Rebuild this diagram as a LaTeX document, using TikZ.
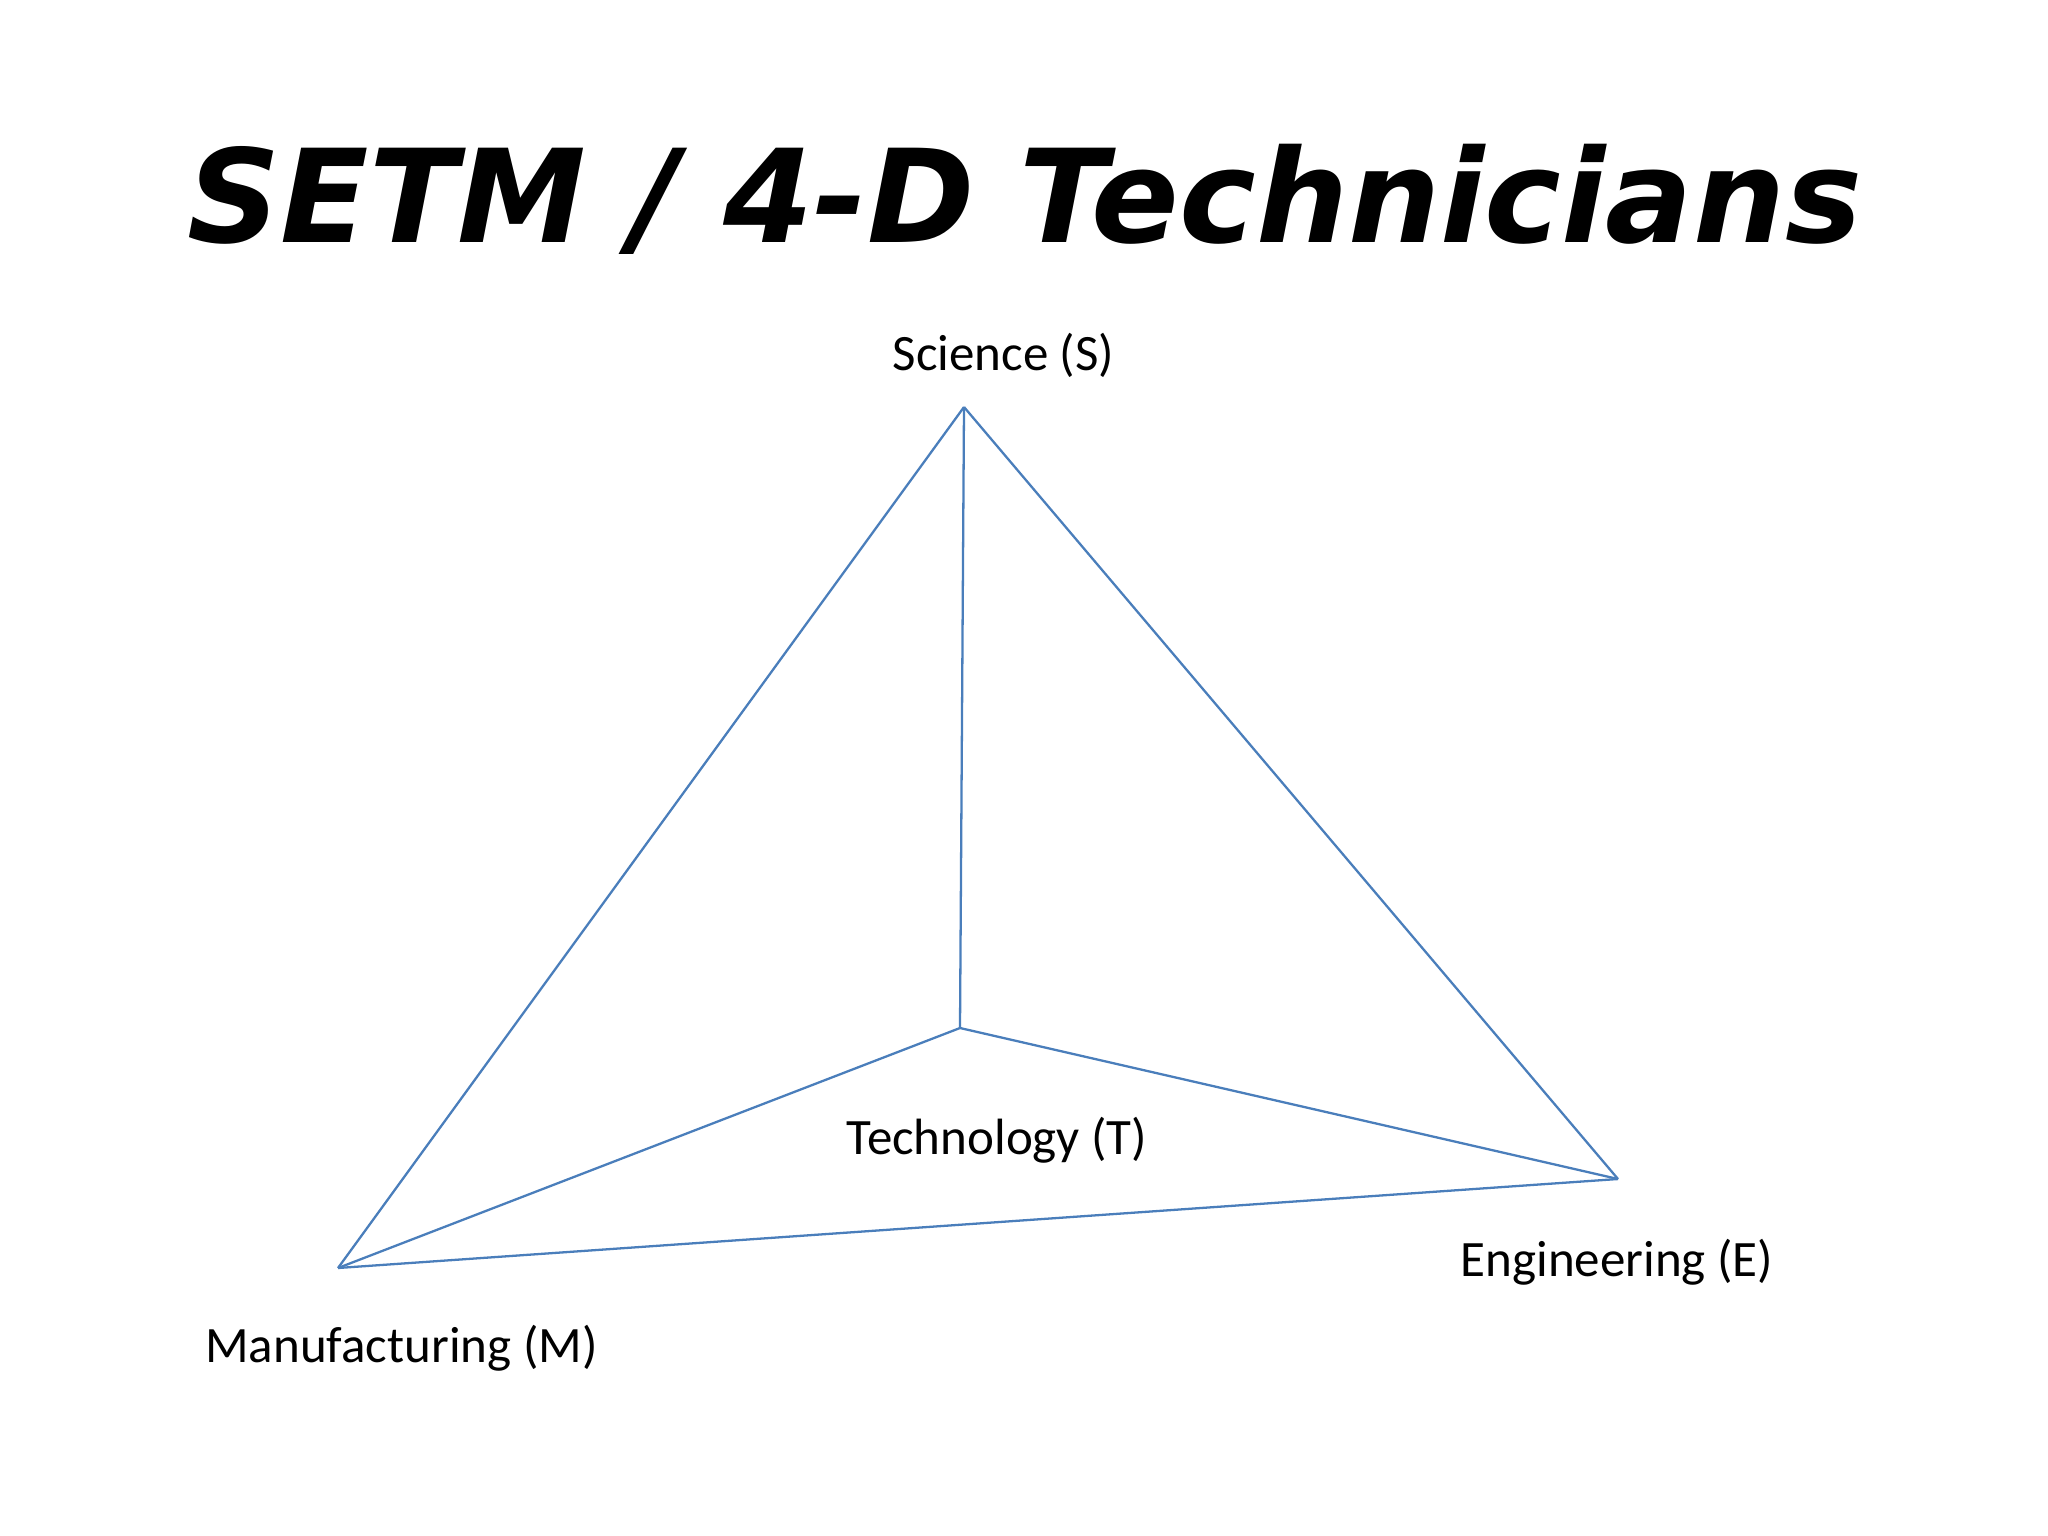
\documentclass[tikz,border=0pt]{standalone}
\usepackage{fontspec}
\setmainfont{Carlito}
\newfontfamily\titlefont{DejaVu Sans}
\definecolor{edgeblue}{RGB}{74,126,187}
\tikzset{
  edge/.style={draw=edgeblue, line width=0.65pt, line join=miter},
  lbl/.style={anchor=base, inner sep=0pt, font=\fontsize{14.5}{17}\selectfont},
  ttl/.style={anchor=base, inner sep=0pt, font=\titlefont\bfseries\itshape\fontsize{36.8}{44}\selectfont}
}
\begin{document}
\begin{tikzpicture}[x=0.01cm,y=-0.01cm]
\useasboundingbox (0,0) rectangle (2048,1536);
\node[ttl] (title) at (1025,242) {SETM / 4-D Technicians};
\coordinate (S) at (964,407);
\coordinate (T) at (960,1028);
\coordinate (E) at (1618,1179);
\coordinate (M) at (338,1268);
\draw[edge] (S) -- (M);
\draw[edge] (S) -- (E);
\draw[edge] (S) -- (T);
\draw[edge] (T) -- (M);
\draw[edge] (T) -- (E);
\draw[edge] (M) -- (E);
\node[lbl] (ls) at (1003.5,370) {Science (S)};
\node[lbl] (lt) at (997,1154) {Technology (T)};
\node[lbl] (lm) at (401.5,1362) {Manufacturing (M)};
\node[lbl] (le) at (1617,1276) {Engineering (E)};
\end{tikzpicture}
\end{document}
